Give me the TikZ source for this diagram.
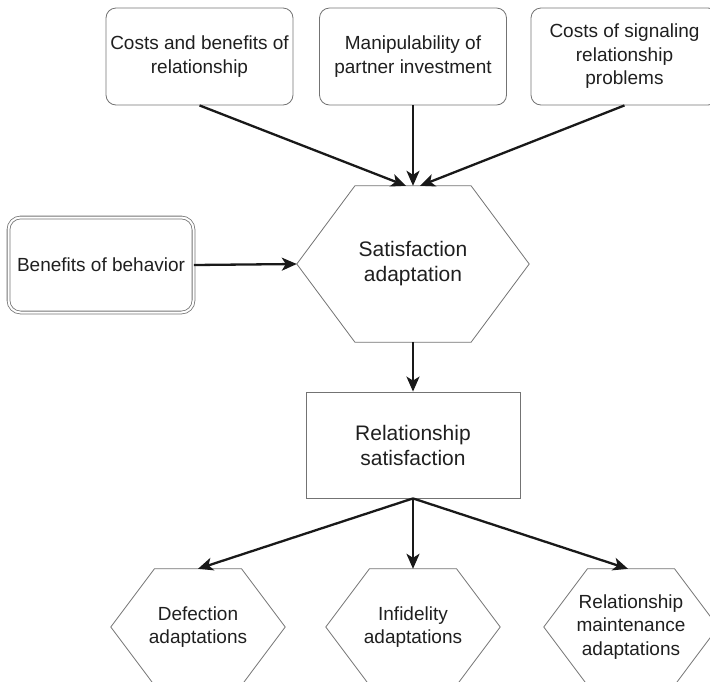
\documentclass[tikz,border=0pt]{standalone}
\usepackage{fontspec}
\setmainfont{Liberation Sans}
\usetikzlibrary{arrows.meta,calc}

% outline of a hexagon node (flat top, pointed sides)
\newcommand{\hexframe}[1]{%
	\draw[shapeline] (#1.west) -- ($(#1.north west)!0.25!(#1.north east)$)
		-- ($(#1.north west)!0.75!(#1.north east)$) -- (#1.east)
		-- ($(#1.south west)!0.75!(#1.south east)$)
		-- ($(#1.south west)!0.25!(#1.south east)$) -- cycle;}

\tikzset{
	shapeline/.style={draw=black!55, line width=0.8pt},
	factor/.style={shapeline, rounded corners=10pt, minimum width=187pt, minimum height=97pt,
		inner sep=0pt, align=center},
	hexnode/.style={inner sep=0pt, align=center},
	bigtext/.style={font=\fontsize{21}{25}\selectfont},
	link/.style={line width=2.3pt, draw=black!90, -{Stealth[length=15pt,width=13pt,inset=4pt]}}
}

\begin{document}
\begin{tikzpicture}[x=1pt, y=-1pt, font=\fontsize{19}{23.5}\selectfont, text=black!88]
	\useasboundingbox (0,0) rectangle (710,681);
	
	% Factors on top
	\node[factor] (costs) at (199.5,56.5) {Costs and benefits of\\relationship};
	\node[factor] (manip) at (413,56.5) {Manipulability of\\partner investment};
	\node[factor] (signal) at (624.5,56.5) {Costs of signaling\\relationship\\problems};
	\node[factor, rounded corners=12pt, double=white, double distance=2pt, minimum width=185pt, minimum height=95pt] (benefit) at (101,265) {Benefits of behavior};
	
	% Central hexagon and box
	\node[hexnode, bigtext, minimum width=232pt, minimum height=156pt] (adapt) at (413,264) {Satisfaction\\adaptation};
	\hexframe{adapt}
	\node[shapeline, bigtext, minimum width=214pt, minimum height=106pt, align=center] (relsat) at (413,445) {Relationship\\satisfaction};
	
	% Outcome hexagons
	\node[hexnode, minimum width=174pt, minimum height=116pt] (defect) at (198,627) {Defection\\adaptations};
	\hexframe{defect}
	\node[hexnode, minimum width=174pt, minimum height=116pt] (infid) at (413,627) {Infidelity\\adaptations};
	\hexframe{infid}
	\node[hexnode, minimum width=174pt, minimum height=116pt] (maint) at (631,627) {Relationship\\maintenance\\adaptations};
	\hexframe{maint}
	
	% Arrows
	\draw[link] (costs.south) -- ($(adapt.north)+(-7,0)$);
	\draw[link] (manip.south) -- (adapt.north);
	\draw[link] (signal.south) -- ($(adapt.north)+(7,0)$);
	\draw[link] (benefit.east) -- (adapt.west);
	\draw[link] (adapt.south) -- (relsat.north);
	\draw[link] (relsat.south) -- (defect.north);
	\draw[link] (relsat.south) -- (infid.north);
	\draw[link] (relsat.south) -- ($(maint.north)+(-3,0)$);
\end{tikzpicture}
\end{document}
